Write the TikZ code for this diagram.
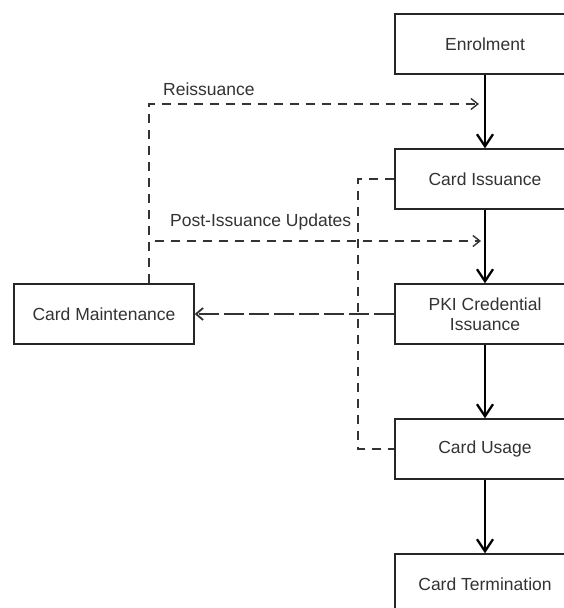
\documentclass[tikz,border=0pt]{standalone}
\usepackage{fontspec}
\setmainfont{Liberation Sans}
\usetikzlibrary{arrows.meta}
\begin{document}
\begin{tikzpicture}[x=1pt,y=-1pt,
  stage/.style={draw=black!85,line width=1.4pt,minimum width=180pt,minimum height=60pt,
    inner sep=0pt,align=center,font=\fontsize{17.5}{20}\selectfont,text=black!80},
  flow/.style={line width=2.3pt,-{Straight Barb[length=12pt,width=16pt,line width=2.3pt]}},
  loopline/.style={draw=black!80,line width=1.4pt,dash pattern=on 9pt off 7pt},
  feedback/.style={loopline,-{Straight Barb[length=7pt,width=11pt,line width=1.4pt]}},
  longdash/.style={draw=black!80,line width=1.4pt,dash pattern=on 20pt off 5pt,
    -{Straight Barb[length=7pt,width=12pt,line width=1.8pt]}},
  lbl/.style={font=\fontsize{17.5}{20}\selectfont,text=black!80,inner sep=0pt}]
\clip (0,0) rectangle (564,608);
\fill[white] (0,0) rectangle (564,608);

% lifecycle stages
\node[stage] (enrol) at (485,44) {Enrolment};
\node[stage] (issue) at (485,179) {Card Issuance};
\node[stage] (pki)   at (485,314) {PKI Credential\\Issuance};
\node[stage] (usage) at (485,449) {Card Usage};
\node[stage] (term)  at (485,584) {Card Termination};
\node[stage] (maint) at (104,314) {Card Maintenance};

% main flow
\draw[flow] (enrol) -- (issue);
\draw[flow] (issue) -- (pki);
\draw[flow] (pki) -- (usage);
\draw[flow] (usage) -- (term);

% link between issuance and usage
\draw[loopline] (issue.west) -- (358,179) -- (358,449) -- (usage.west);

% feedback from maintenance
\coordinate (reiss) at (479,104);
\coordinate (post) at (481,241);
\draw[feedback] (maint.north -| 149,0) -- (149,104) -- (reiss);
\draw[feedback] (maint.north -| 149,0) -- (149,241) -- (post);
\draw[longdash] (pki.west) -- (maint.east);

% edge labels
\node[lbl,anchor=west] (lreiss) at (163,89) {Reissuance};
\node[lbl,anchor=west] (lpost) at (170,222) {Post-Issuance Updates};
\end{tikzpicture}
\end{document}
